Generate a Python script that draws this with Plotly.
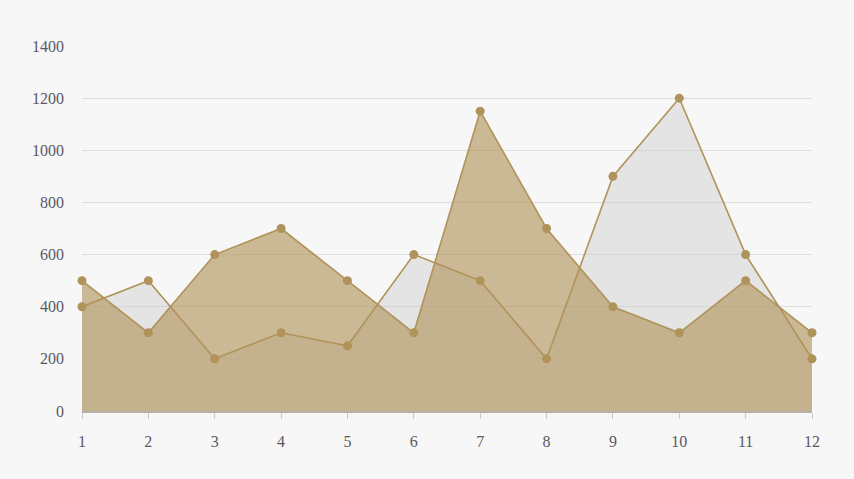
import plotly.graph_objects as go

months = list(range(1, 13))
series_grey = [400, 500, 200, 300, 250, 600, 500, 200, 900, 1200, 600, 200]
series_tan = [500, 300, 600, 700, 500, 300, 1150, 700, 400, 300, 500, 300]
y_ticks = [0, 200, 400, 600, 800, 1000, 1200, 1400]

line_color = "#b0935a"
font = dict(family="Liberation Serif, DejaVu Serif, serif", size=16, color="#5b5862")

fig = go.Figure()
fig.add_trace(go.Scatter(
    x=months, y=series_grey, mode="lines+markers", fill="tozeroy",
    fillcolor="rgba(200,200,200,0.4)",
    line=dict(color=line_color, width=1.6),
    marker=dict(color=line_color, size=9),
    cliponaxis=False, showlegend=False, hoverinfo="x+y",
))
fig.add_trace(go.Scatter(
    x=months, y=series_tan, mode="lines+markers", fill="tozeroy",
    fillcolor="rgba(177,147,91,0.63)",
    line=dict(color=line_color, width=1.6),
    marker=dict(color=line_color, size=9),
    cliponaxis=False, showlegend=False, hoverinfo="x+y",
))

fig.update_layout(
    width=854, height=479,
    paper_bgcolor="#f7f7f7", plot_bgcolor="#f7f7f7",
    margin=dict(l=82, r=42, t=46, b=68),
    font=font,
    xaxis=dict(
        range=[1, 12], tickvals=months, showgrid=False, zeroline=False,
        showline=True, linecolor="#b5b0a8", linewidth=1.5,
        ticks="outside", ticklen=6, tickcolor="#c8c8c8",
        ticklabelstandoff=9,
    ),
    yaxis=dict(
        range=[0, 1400], tickvals=y_ticks, showgrid=True,
        gridcolor="#dedede", gridwidth=1, zeroline=False, showline=False,
        ticklabelstandoff=17,
    ),
)

fig.write_html(
    "out.html",
    config={"displayModeBar": False},
    post_script="document.body.style.margin='0';document.body.style.overflow='hidden';document.body.style.background='#f7f7f7';",
)
